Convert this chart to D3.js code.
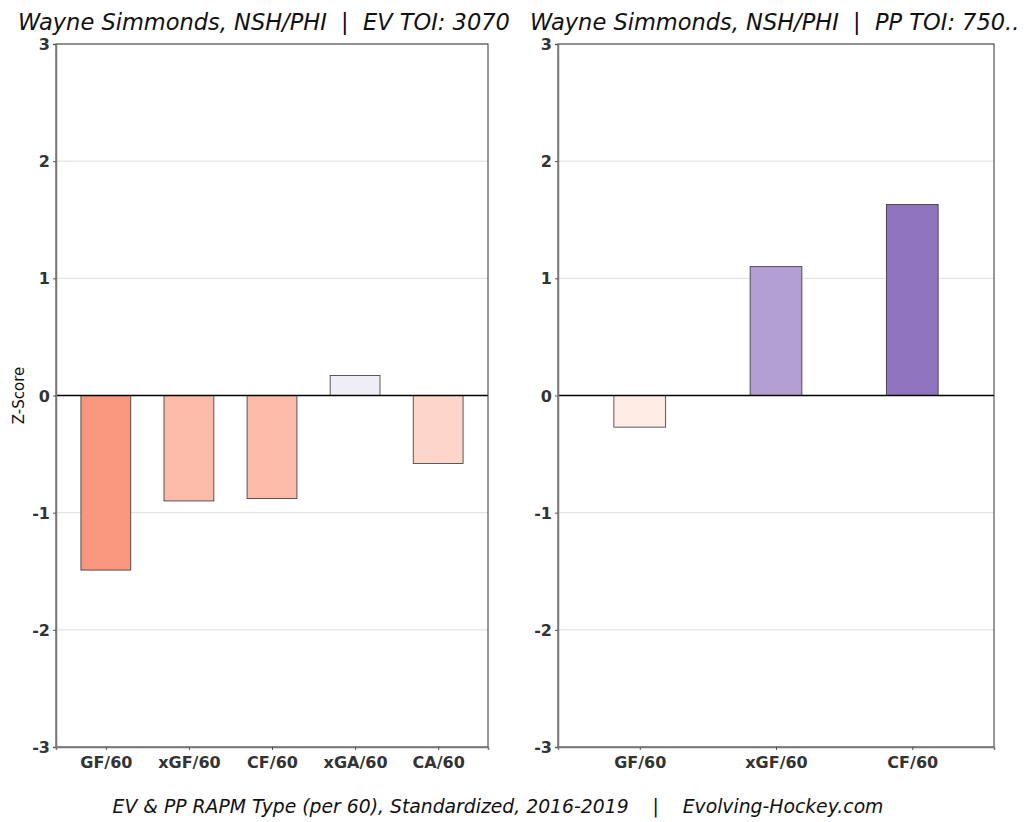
<!DOCTYPE html>
<html>
<head>
<meta charset="utf-8">
<script src="https://cdn.jsdelivr.net/npm/d3@7"></script>
<style>
body { margin: 0; background: #fff; }
svg { display: block; }
text { white-space: pre; }
</style>
</head>
<body>
<svg width="1024" height="822"></svg>
<script>
const svg = d3.select("svg");

const evMetrics = ["GF/60", "xGF/60", "CF/60", "xGA/60", "CA/60"];
const evValues = [-1.49, -0.90, -0.88, 0.17, -0.58];
const evColors = ["#f9967e", "#fcbba8", "#fcbba8", "#efedf5", "#fdd5c9"];

const ppMetrics = ["GF/60", "xGF/60", "CF/60"];
const ppValues = [-0.27, 1.10, 1.63];
const ppColors = ["#feebe4", "#b39fd4", "#8e74bf"];

const yTicks = [-3, -2, -1, 0, 1, 2, 3];

const evTitle = "Wayne Simmonds, NSH/PHI  |  EV TOI: 3070";
const ppTitle = "Wayne Simmonds, NSH/PHI  |  PP TOI: 750..";
const caption = "EV & PP RAPM Type (per 60), Standardized, 2016-2019    |    Evolving-Hockey.com";

const plotTop = 44, plotBottom = 747;

function panel(left, right, metrics, values, colors, barFrac, title, titleX, showYLabel) {
    const x = d3.scalePoint().domain(metrics).range([left, right]).padding(0.6);
    const y = d3.scaleLinear().domain([-3, 3]).range([plotBottom, plotTop]);
    const bw = x.step() * barFrac;

    const g = svg.append("g");

    g.selectAll(".grid")
        .data(yTicks)
        .enter().append("line")
        .attr("x1", left).attr("x2", right)
        .attr("y1", d => y(d)).attr("y2", d => y(d))
        .attr("stroke", "#dedede")
        .attr("stroke-width", 1);

    g.selectAll(".bar")
        .data(metrics)
        .enter().append("rect")
        .attr("x", d => x(d) - bw / 2)
        .attr("width", bw)
        .attr("y", (d, i) => y(Math.max(0, values[i])))
        .attr("height", (d, i) => Math.abs(y(values[i]) - y(0)))
        .attr("fill", (d, i) => colors[i])
        .attr("stroke", "#333")
        .attr("stroke-width", 0.8);

    g.append("line")
        .attr("x1", left).attr("x2", right)
        .attr("y1", y(0)).attr("y2", y(0))
        .attr("stroke", "#000")
        .attr("stroke-width", 1.3);

    g.append("rect")
        .attr("x", left).attr("y", plotTop)
        .attr("width", right - left).attr("height", plotBottom - plotTop)
        .attr("fill", "none")
        .attr("stroke", "#333")
        .attr("stroke-width", 1);

    const yAxis = g.append("g")
        .attr("transform", `translate(${left},0)`)
        .call(d3.axisLeft(y).tickValues(yTicks).tickSize(3).tickPadding(3).tickFormat(d => String(d)));
    const xAxis = g.append("g")
        .attr("transform", `translate(0,${plotBottom})`)
        .call(d3.axisBottom(x).tickSize(3).tickPadding(4));

    [yAxis, xAxis].forEach(a => {
        a.select(".domain").attr("stroke", "#777").attr("stroke-width", 1.5);
        a.selectAll(".tick line").attr("stroke", "#555");
        a.selectAll(".tick text")
            .attr("fill", "#333")
            .style("font-family", "DejaVu Sans")
            .style("font-weight", "bold")
            .style("font-size", "16px");
    });
    xAxis.selectAll(".tick text").attr("dy", "0.9em");
    yAxis.selectAll(".tick text").attr("dy", "0.35em");

    svg.append("text")
        .attr("x", titleX).attr("y", 30)
        .style("font-family", "DejaVu Sans")
        .style("font-style", "italic")
        .style("font-size", "22.5px")
        .attr("fill", "#111")
        .text(title);

    if (showYLabel) {
        svg.append("text")
            .attr("transform", `translate(24,${y(0)}) rotate(-90)`)
            .attr("text-anchor", "middle")
            .style("font-family", "DejaVu Sans")
            .style("font-size", "15px")
            .attr("fill", "#111")
            .text("Z-Score");
    }
}

panel(56, 488, evMetrics, evValues, evColors, 0.6, evTitle, 18, true);
panel(558, 994, ppMetrics, ppValues, ppColors, 0.38, ppTitle, 530, false);

svg.append("text")
    .attr("x", 498).attr("y", 813)
    .attr("text-anchor", "middle")
    .style("font-family", "DejaVu Sans")
    .style("font-style", "italic")
    .style("font-size", "18.8px")
    .attr("fill", "#111")
    .text(caption);
</script>
</body>
</html>
